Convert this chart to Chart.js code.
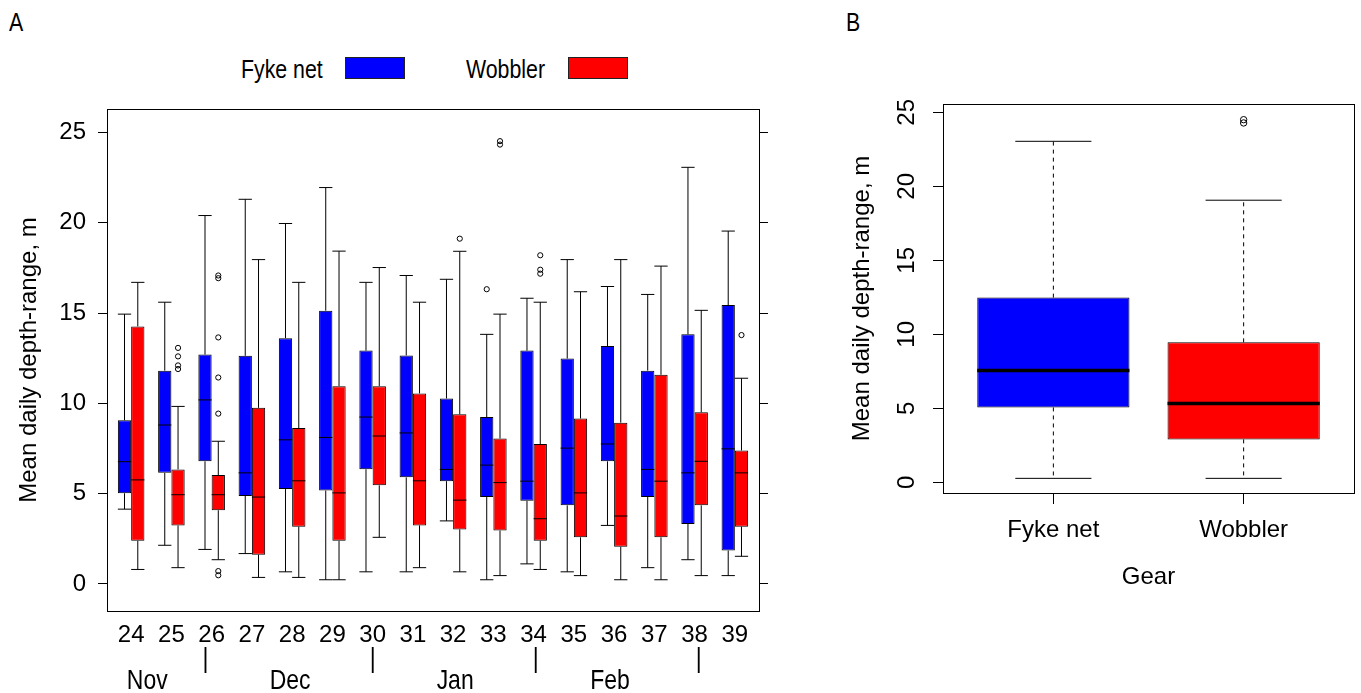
<!DOCTYPE html>
<html>
<head>
<meta charset="utf-8">
<script src="https://cdn.jsdelivr.net/npm/chart.js@4.4.1/dist/chart.umd.min.js"></script>
<style>
  body { margin: 0; background: #fff; width: 1361px; height: 693px; overflow: hidden; position: relative; }
  #painelA { position: absolute; left: 0; top: 0; width: 800px; height: 693px; }
  #painelB { position: absolute; left: 820px; top: 0; width: 541px; height: 693px; }
  /* fonte "narrow": Liberation Sans comprimida na horizontal */
  .estreita { position: absolute; font-family: 'Liberation Sans', Arial, sans-serif; color: #000; line-height: 30px;
              white-space: nowrap; transform: scaleX(0.82); transform-origin: left center; }
  .rotulo { font-size: 26px; top: 7px; }
  .leg-texto { font-size: 26px; top: 54px; }
  .leg-caixa { position: absolute; top: 57px; width: 58px; height: 20px; border: 1px solid #222; }
</style>
</head>
<body>
<div class="estreita rotulo" style="left:9px">A</div>
<div class="estreita rotulo" style="left:846px">B</div>
<span class="estreita leg-texto" style="left:241px">Fyke net</span>
<span class="leg-caixa" style="left:345px;background:#0000ff"></span>
<span class="estreita leg-texto" style="left:466px">Wobbler</span>
<span class="leg-caixa" style="left:568px;background:#ff0000"></span>

<div id="painelA"><canvas id="graficoSemanas"></canvas></div>
<div id="painelB"><canvas id="graficoGear"></canvas></div>

<script>
// Semanas (painel A)
const semanas = ['24', '25', '26', '27', '28', '29', '30', '31', '32', '33', '34', '35', '36', '37', '38', '39'];

const fykeMin = [4.14, 2.14, 1.91, 1.68, 0.67, 0.23, 0.67, 0.67, 3.49, 0.23, 1.11, 0.67, 3.24, 0.90, 1.34, 0.46];
const fykeQ1  = [5.02, 6.15, 6.79, 4.87, 5.25, 5.17, 6.35, 5.90, 5.69, 4.81, 4.60, 4.35, 6.79, 4.81, 3.32, 1.85];
const fykeMed = [6.77, 8.80, 10.19, 6.15, 7.98, 8.11, 9.24, 8.36, 6.34, 6.58, 5.69, 7.52, 7.75, 6.34, 6.15, 7.48];
const fykeQ3  = [9.06, 11.81, 12.70, 12.63, 13.61, 15.13, 12.92, 12.65, 10.27, 9.24, 12.92, 12.48, 13.17, 11.81, 13.82, 15.44];
const fykeMax = [14.94, 15.60, 20.40, 21.30, 19.96, 21.95, 16.70, 17.08, 16.87, 13.82, 15.82, 17.96, 16.47, 16.03, 23.07, 19.54];
const fykeOut = [[], [], [], [], [], [], [], [], [], [16.32], [], [], [], [], [], []];

const wobMin = [0.80, 0.90, 1.34, 0.36, 0.36, 0.23, 2.58, 0.90, 0.67, 0.46, 0.80, 0.46, 0.23, 0.23, 0.46, 1.53];
const wobQ1  = [2.39, 3.24, 4.08, 1.62, 3.17, 2.39, 5.46, 3.24, 3.02, 2.96, 2.39, 2.58, 2.06, 2.58, 4.35, 3.17];
const wobMed = [5.76, 4.94, 4.94, 4.81, 5.71, 5.04, 8.19, 5.71, 4.64, 5.61, 3.61, 5.04, 3.76, 5.69, 6.79, 6.15];
const wobQ3  = [14.26, 6.34, 6.03, 9.75, 8.63, 10.95, 10.95, 10.55, 9.39, 8.05, 7.75, 9.16, 8.93, 11.58, 9.50, 7.39];
const wobMax = [16.70, 9.83, 7.90, 17.96, 16.70, 18.43, 17.52, 15.60, 18.42, 14.94, 15.60, 16.18, 17.96, 17.60, 15.15, 11.39];
const wobOut = [[], [13.07, 12.6, 12.1, 11.9], [17.08, 16.93, 13.65, 11.43, 9.43, 0.71, 0.48], [], [], [], [], [],
                [19.12], [24.52, 24.33], [18.2, 17.4, 17.18], [], [], [], [], [13.78]];

const ticksY = [0, 5, 10, 15, 20, 25];

// meses abaixo do eixo x (posição em unidades de semana)
const meses = ['Nov', 'Dec', 'Jan', 'Feb'];
const posMeses = [1.4, 4.95, 9.05, 12.9];
const posSeparadores = [2.85, 7.0, 11.05, 15.1];

// Painel B: por arte de pesca
const gear = ['Fyke net', 'Wobbler'];
const gearMin = [0.27, 0.27];
const gearQ1  = [5.06, 2.90];
const gearMed = [7.55, 5.33];
const gearQ3  = [12.48, 9.46];
const gearMax = [23.04, 19.06];
const gearOut = [[], [24.5, 24.28]];

const corFyke = '#0000ff';
const corWobbler = '#ff0000';
const fonteEixo = { family: "'Liberation Sans', Arial, sans-serif", size: 24 };

Chart.defaults.color = '#000';
Chart.defaults.font.family = fonteEixo.family;

// desenha bigodes, medianas e outliers sobre as barras flutuantes
function pluginBoxplot(id, series, estilo) {
  return {
    id,
    afterDatasetsDraw(chart) {
      const { ctx } = chart;
      const y = chart.scales.y;
      series.forEach((s, d) => {
        const meta = chart.getDatasetMeta(d);
        meta.data.forEach((barra, i) => {
          const x = barra.x;
          const w = barra.width;
          const cap = w * estilo.capa / 2;
          ctx.save();
          ctx.strokeStyle = '#000';
          ctx.lineWidth = 1;
          // bigodes
          ctx.setLineDash(estilo.tracejado);
          ctx.beginPath();
          ctx.moveTo(x, y.getPixelForValue(s.q3[i]));
          ctx.lineTo(x, y.getPixelForValue(s.max[i]));
          ctx.moveTo(x, y.getPixelForValue(s.q1[i]));
          ctx.lineTo(x, y.getPixelForValue(s.min[i]));
          ctx.stroke();
          ctx.setLineDash([]);
          // tampas
          ctx.beginPath();
          ctx.moveTo(x - cap, y.getPixelForValue(s.max[i]));
          ctx.lineTo(x + cap, y.getPixelForValue(s.max[i]));
          ctx.moveTo(x - cap, y.getPixelForValue(s.min[i]));
          ctx.lineTo(x + cap, y.getPixelForValue(s.min[i]));
          ctx.stroke();
          // mediana
          ctx.lineWidth = estilo.mediana;
          ctx.beginPath();
          ctx.moveTo(x - w / 2, y.getPixelForValue(s.med[i]));
          ctx.lineTo(x + w / 2, y.getPixelForValue(s.med[i]));
          ctx.stroke();
          // outliers
          ctx.lineWidth = 1;
          s.out[i].forEach(v => {
            ctx.beginPath();
            ctx.arc(x, y.getPixelForValue(v), estilo.raio, 0, Math.PI * 2);
            ctx.stroke();
          });
          ctx.restore();
        });
      });
    },
    afterDraw(chart) {
      const { ctx, chartArea: a } = chart;
      ctx.save();
      ctx.strokeStyle = '#000';
      ctx.lineWidth = 1;
      ctx.strokeRect(a.left + 0.5, a.top + 0.5, a.right - a.left, a.bottom - a.top);
      ctx.restore();
    }
  };
}

function textoEstreito(ctx, texto, x, y) {
  ctx.save();
  ctx.translate(x, y);
  ctx.scale(0.82, 1);
  ctx.fillText(texto, 0, 0);
  ctx.restore();
}

const pluginMeses = {
  id: 'meses',
  afterDraw(chart) {
    const { ctx } = chart;
    const x = chart.scales.x;
    ctx.save();
    ctx.fillStyle = '#000';
    ctx.textAlign = 'center';
    ctx.textBaseline = 'middle';
    ctx.font = "28px 'Liberation Sans', Arial, sans-serif";
    posSeparadores.forEach(p => textoEstreito(ctx, '|', x.getPixelForValue(p), 659));
    meses.forEach((m, i) => textoEstreito(ctx, m, x.getPixelForValue(posMeses[i]), 681));
    ctx.restore();
  }
};

const seriesA = [
  { min: fykeMin, q1: fykeQ1, med: fykeMed, q3: fykeQ3, max: fykeMax, out: fykeOut },
  { min: wobMin, q1: wobQ1, med: wobMed, q3: wobQ3, max: wobMax, out: wobOut }
];

new Chart(document.getElementById('graficoSemanas'), {
  type: 'bar',
  data: {
    datasets: [
      {
        label: 'Fyke net',
        data: semanas.map((_, i) => ({ x: i + 1, y: [fykeQ1[i], fykeQ3[i]] })),
        backgroundColor: corFyke, borderColor: '#000', borderWidth: 1, borderSkipped: false,
        categoryPercentage: 0.66, barPercentage: 1
      },
      {
        label: 'Wobbler',
        data: semanas.map((_, i) => ({ x: i + 1, y: [wobQ1[i], wobQ3[i]] })),
        backgroundColor: corWobbler, borderColor: '#000', borderWidth: 1, borderSkipped: false,
        categoryPercentage: 0.66, barPercentage: 1
      }
    ]
  },
  options: {
    responsive: true,
    maintainAspectRatio: false,
    animation: false,
    layout: { padding: { top: 109, left: 0, right: 0, bottom: 0 } },
    plugins: { legend: { display: false }, tooltip: { enabled: false } },
    scales: {
      x: {
        type: 'linear', min: 0.4, max: 16.6, offset: false,
        grid: { display: false, drawTicks: false, offset: false },
        border: { display: false },
        afterBuildTicks: s => { s.ticks = semanas.map((_, i) => ({ value: i + 1 })); },
        afterFit: s => { s.height = 82; },
        ticks: { callback: v => semanas[v - 1], font: fonteEixo, padding: 10, autoSkip: false, maxRotation: 0 }
      },
      y: {
        min: -1.5, max: 26.3,
        afterBuildTicks: s => { s.ticks = ticksY.map(v => ({ value: v })); },
        afterFit: s => { s.width = 107; },
        grid: { drawOnChartArea: false, tickLength: 9, color: '#000' },
        border: { display: false },
        ticks: { font: fonteEixo, padding: 12 },
        title: { display: true, text: 'Mean daily depth-range, m', font: fonteEixo, padding: { top: 15, bottom: 0 } }
      },
      y2: {
        position: 'right', min: -1.5, max: 26.3,
        afterBuildTicks: s => { s.ticks = ticksY.map(v => ({ value: v })); },
        afterFit: s => { s.width = 41; },
        grid: { drawOnChartArea: false, tickLength: 9, color: '#000' },
        border: { display: false },
        ticks: { display: false }
      }
    }
  },
  plugins: [pluginBoxplot('boxA', seriesA, { capa: 1, mediana: 1, raio: 2.6, tracejado: [] }), pluginMeses]
});

const seriesB = [{ min: gearMin, q1: gearQ1, med: gearMed, q3: gearQ3, max: gearMax, out: gearOut }];

new Chart(document.getElementById('graficoGear'), {
  type: 'bar',
  data: {
    datasets: [{
      label: 'Gear',
      data: gear.map((_, i) => ({ x: i + 1, y: [gearQ1[i], gearQ3[i]] })),
      backgroundColor: [corFyke, corWobbler], borderColor: '#000', borderWidth: 1, borderSkipped: false,
      categoryPercentage: 0.8, barPercentage: 1
    }]
  },
  options: {
    responsive: true,
    maintainAspectRatio: false,
    animation: false,
    layout: { padding: { top: 104, left: 0, right: 7, bottom: 0 } },
    plugins: { legend: { display: false }, tooltip: { enabled: false } },
    scales: {
      x: {
        type: 'linear', min: 0.42, max: 2.58, offset: false,
        grid: { drawOnChartArea: false, tickLength: 11, color: '#000', offset: false },
        border: { display: false },
        afterBuildTicks: s => { s.ticks = gear.map((_, i) => ({ value: i + 1 })); },
        afterFit: s => { s.height = 200; },
        ticks: { callback: v => gear[v - 1], font: fonteEixo, padding: 12, autoSkip: false, maxRotation: 0 },
        title: { display: true, text: 'Gear', font: fonteEixo, padding: { top: 0, bottom: 101 } }
      },
      y: {
        min: -0.72, max: 25.56,
        afterBuildTicks: s => { s.ticks = ticksY.map(v => ({ value: v })); },
        afterFit: s => { s.width = 123; },
        grid: { drawOnChartArea: false, tickLength: 10, color: '#000' },
        border: { display: false },
        ticks: { font: fonteEixo, padding: 12, minRotation: 90, maxRotation: 90, crossAlign: 'center' },
        title: { display: true, text: 'Mean daily depth-range, m', font: fonteEixo, padding: { top: 28, bottom: 0 } }
      }
    }
  },
  plugins: [pluginBoxplot('boxB', seriesB, { capa: 0.5, mediana: 3.5, raio: 3.2, tracejado: [4, 4] })]
});
</script>
</body>
</html>
